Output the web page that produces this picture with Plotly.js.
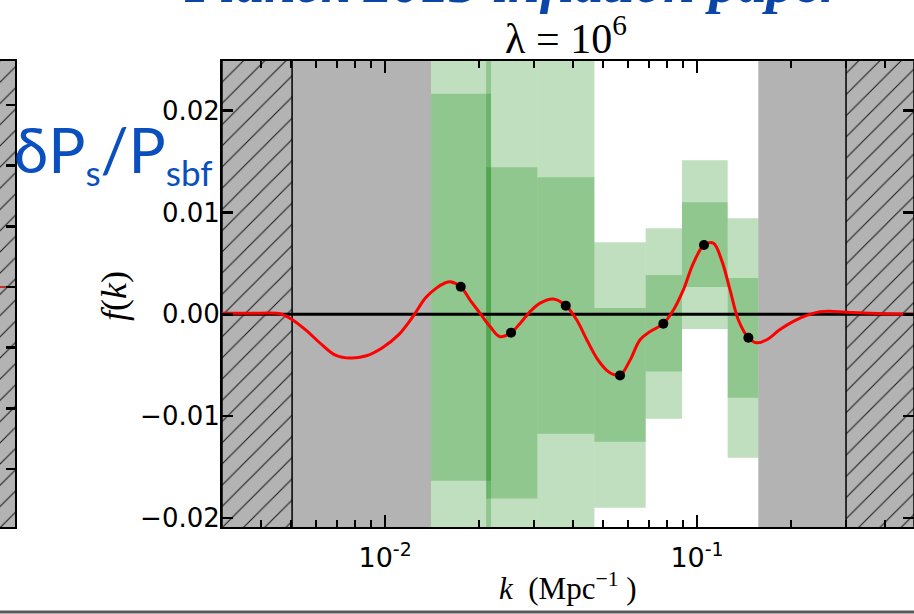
<!DOCTYPE html>
<html><head><meta charset="utf-8">
<script src="https://cdn.plot.ly/plotly-3.0.1.min.js"></script>
<style>html,body{margin:0;padding:0;background:#fff;overflow:hidden}#chart{width:914px;height:614px}</style>
</head><body><div id="chart"></div>
<script>
// axis limits
const K_MIN = 0.003, K_MAX = 0.4962;
const F_MIN = -0.02089, F_MAX = 0.02488;

// reconstructed f(k) curve
const curve_k = [0.003, 0.0037, 0.0045, 0.00468, 0.00503, 0.00555, 0.00628, 0.00693, 0.00774, 0.00865,
  0.00978, 0.01106, 0.01236, 0.01346, 0.01449, 0.01561, 0.01615, 0.01748, 0.01873, 0.02016,
  0.0217, 0.02337, 0.02534, 0.02708, 0.02916, 0.0314, 0.03463, 0.03795, 0.04116, 0.04432,
  0.04772, 0.05136, 0.0539, 0.05665, 0.06101, 0.06568, 0.07071, 0.07798, 0.08395, 0.0904,
  0.0973, 0.1053, 0.1128, 0.12, 0.1276, 0.1357, 0.1461, 0.1554, 0.1673, 0.1845,
  0.2036, 0.2247, 0.2479, 0.2669, 0.3004, 0.3585, 0.4962];
const curve_f = [0.0001, 0.0001, 0.0001, 0.0, -0.0005, -0.0015, -0.0030, -0.0040, -0.0043, -0.0041,
  -0.0033, -0.0020, -0.0001, 0.0016, 0.0025, 0.0031, 0.0032, 0.0027, 0.0014, 0.0001,
  -0.0012, -0.0022, -0.0018, -0.0009, 0.00026, 0.0011, 0.0015, 0.00085, -0.00056, -0.0025,
  -0.0043, -0.0055, -0.0059, -0.0060, -0.0045, -0.0025, -0.0017, -0.00092, 0.0004, 0.0024,
  0.0050, 0.0068, 0.0070, 0.0053, 0.0024, -0.00056, -0.0023, -0.0028, -0.0025, -0.0015,
  -0.0007, -0.0001, 0.00026, 0.0003, 0.0002, 0.0001, 0.0];

// knot points
const knot_k = [0.01748, 0.02534, 0.03795, 0.05665, 0.07798, 0.1053, 0.1461];
const knot_f = [0.0027, -0.0018, 0.00085, -0.0060, -0.00092, 0.0068, -0.0023];

// bins with 1-sigma and 2-sigma bands
const bin_lo  = [0.01404, 0.02108, 0.03077, 0.04688, 0.06847, 0.08951, 0.1254];
const bin_hi  = [0.02186, 0.03077, 0.04688, 0.06847, 0.08951, 0.1254, 0.1572];
const sig1_lo = [-0.01634, -0.0181, -0.01174, -0.01252, -0.00562, 0.00268, -0.0082];
const sig1_hi = [0.02167, 0.01444, 0.01346, 0.00062, 0.00385, 0.0110, 0.00356];
const sig2_lo = [-0.030, -0.029, -0.028, -0.0190, -0.01026, -0.00144, -0.01409];
const sig2_hi = [0.034, 0.033, 0.032, 0.00709, 0.00846, 0.01513, 0.00944];

// excluded regions
const gray_start  = [0.005033, 0.1572];
const gray_end    = [0.01404, 0.3004];
const hatch_start = [K_MIN, 0.3004];
const hatch_end   = [0.005033, K_MAX];

// ticks
const x_tick_vals = [0.01, 0.1];
const x_tick_text = ['10<sup>-2</sup>', '10<sup>-1</sup>'];
const x_minor_vals = [0.004, 0.005, 0.006, 0.007, 0.008, 0.009, 0.02, 0.03, 0.04, 0.05, 0.06, 0.07, 0.08, 0.09, 0.2, 0.3, 0.4];
const y_tick_vals = [-0.02, -0.01, 0.0, 0.01, 0.02];
const left_tick_vals = [-3, -2, -1, 0, 1, 2, 3];

const Y_LO = F_MIN - 0.02, Y_HI = F_MAX + 0.02;
function rect(x0, x1, y0, y1) { return {x: [x0, x1, x1, x0, x0], y: [y0, y0, y1, y1, y0]}; }

const traces = [];
const GRAY = '#b3b3b3';
gray_start.forEach((s, i) => {
  const r = rect(s, gray_end[i], Y_LO, Y_HI);
  traces.push({type: 'scatter', mode: 'none', x: r.x, y: r.y, fill: 'toself', fillcolor: GRAY,
    hoverinfo: 'skip', showlegend: false});
});
hatch_start.forEach((s, i) => {
  const r = rect(s, hatch_end[i], Y_LO, Y_HI);
  traces.push({type: 'scatter', mode: 'lines', x: r.x, y: r.y, fill: 'toself', fillcolor: GRAY,
    fillpattern: {shape: '/', bgcolor: GRAY, fgcolor: '#1a1a1a', size: 15, solidity: 0.07, fillmode: 'replace'},
    line: {color: 'black', width: 1.5}, hoverinfo: 'skip', showlegend: false});
});
const GREEN = 'rgba(0,128,0,0.25)';
bin_lo.forEach((lo, i) => {
  const r2 = rect(lo, bin_hi[i], sig2_lo[i], sig2_hi[i]);
  traces.push({type: 'scatter', mode: 'none', x: r2.x, y: r2.y, fill: 'toself', fillcolor: GREEN,
    hoverinfo: 'skip', showlegend: false});
  const r1 = rect(lo, bin_hi[i], sig1_lo[i], sig1_hi[i]);
  traces.push({type: 'scatter', mode: 'none', x: r1.x, y: r1.y, fill: 'toself', fillcolor: GREEN,
    hoverinfo: 'skip', showlegend: false});
});
// reference line f = 0
traces.push({type: 'scatter', mode: 'lines', x: [K_MIN, K_MAX], y: [0, 0],
  line: {color: 'black', width: 3}, hoverinfo: 'skip', showlegend: false});
traces.push({type: 'scatter', mode: 'lines', x: curve_k, y: curve_f,
  line: {color: '#ff0000', width: 3, shape: 'spline', smoothing: 1}, showlegend: false});
traces.push({type: 'scatter', mode: 'markers', x: knot_k, y: knot_f,
  marker: {color: 'black', size: 10}, showlegend: false});

// partially visible neighbouring panel on the left
const lp = rect(0, 1, -10, 10);
traces.push({type: 'scatter', mode: 'none', x: lp.x, y: lp.y, xaxis: 'x2', yaxis: 'y2', fill: 'toself', fillcolor: GRAY,
  fillpattern: {shape: '/', bgcolor: GRAY, fgcolor: '#1a1a1a', size: 15, solidity: 0.07, fillmode: 'replace'},
  hoverinfo: 'skip', showlegend: false});
traces.push({type: 'scatter', mode: 'lines', x: [0, 1], y: [0, 0], xaxis: 'x2', yaxis: 'y2',
  line: {color: '#cc0000', width: 1.5}, hoverinfo: 'skip', showlegend: false});

const W = 914, H = 614;
const yDom = [(H - 527) / H, (H - 61) / H];

const layout = {
  width: W, height: H,
  margin: {l: 0, r: 0, t: 0, b: 0},
  paper_bgcolor: 'white', plot_bgcolor: 'white',
  showlegend: false,
  title: {text: 'λ = 10<sup>6</sup>', font: {family: 'Liberation Serif', size: 42, color: 'black'},
    x: 566 / W, xanchor: 'center', y: 1 - 38 / H, yanchor: 'middle'},
  xaxis: {
    type: 'log', domain: [222 / W, 1], anchor: 'y',
    range: [Math.log10(K_MIN), Math.log10(K_MAX)],
    tickmode: 'array', tickvals: x_tick_vals, ticktext: x_tick_text,
    ticks: 'inside', ticklen: 12, tickwidth: 2.5, tickcolor: 'black',
    minor: {tickmode: 'array', tickvals: x_minor_vals, ticks: 'inside', ticklen: 7, tickwidth: 2, tickcolor: 'black', showgrid: false},
    showline: true, linecolor: 'black', linewidth: 2, mirror: 'allticks',
    showgrid: false, zeroline: false, tickfont: {family: 'DejaVu Sans', size: 27, color: 'black'}, ticklabelstandoff: 6
  },
  yaxis: {
    domain: yDom, anchor: 'x', range: [F_MIN, F_MAX],
    tickmode: 'array', tickvals: y_tick_vals, tickformat: '.2f',
    ticks: 'inside', ticklen: 11, tickwidth: 2.5, tickcolor: 'black',
    showline: true, linecolor: 'black', linewidth: 2, mirror: 'allticks',
    showgrid: false, zeroline: false, tickfont: {family: 'DejaVu Sans', size: 26, color: 'black'}, ticklabelstandoff: -5
  },
  xaxis2: {
    domain: [0, 15 / W], anchor: 'y2', range: [0, 1],
    showline: true, linecolor: 'black', linewidth: 2, mirror: true,
    ticks: '', showticklabels: false, showgrid: false, zeroline: false
  },
  yaxis2: {
    domain: yDom, anchor: 'x2', side: 'right', range: [-3.954, 3.723],
    tickmode: 'array', tickvals: left_tick_vals,
    ticks: 'inside', ticklen: 9, tickwidth: 2.5, tickcolor: 'black',
    showticklabels: false, showline: true, linecolor: 'black', linewidth: 2,
    showgrid: false, zeroline: false
  },
  annotations: [
    {xref: 'paper', yref: 'paper', x: 513 / W, y: 1 - 16 / H, xanchor: 'center', yanchor: 'bottom',
     text: 'Planck 2013 inflation paper', showarrow: false,
     font: {family: 'Liberation Serif', size: 57, color: '#0b45a6', weight: 'bold', style: 'italic'}},
    {xref: 'paper', yref: 'paper', x: 12 / W, y: 1 - 152 / H, xanchor: 'left', yanchor: 'middle',
     text: 'δP<sub><span style="font-size:35px">s</span></sub>/P<sub><span style="font-size:35px">sbf</span></sub>',
     showarrow: false, font: {family: 'Lato', size: 62, color: '#0a4fbf'}},
    {xref: 'paper', yref: 'paper', x: 114 / W, y: 1 - 296 / H, xanchor: 'center', yanchor: 'middle',
     text: '<i>f</i>(<i>k</i>)', textangle: -90, showarrow: false,
     font: {family: 'Liberation Serif', size: 36, color: 'black'}},
    {xref: 'paper', yref: 'paper', x: 568 / W, y: 1 - 586 / H, xanchor: 'center', yanchor: 'middle',
     text: '<i>k</i>\u00a0\u00a0(Mpc<sup>−1</sup>\u00a0)', showarrow: false,
     font: {family: 'Liberation Serif', size: 31, color: 'black'}}
  ],
  shapes: [
    {type: 'line', xref: 'paper', yref: 'paper', x0: 0, x1: 1, y0: 2 / H, y1: 2 / H,
     line: {color: '#5a5a5a', width: 3}}
  ]
};

Plotly.newPlot('chart', traces, layout, {staticPlot: true, displayModeBar: false});
</script>
</body></html>
